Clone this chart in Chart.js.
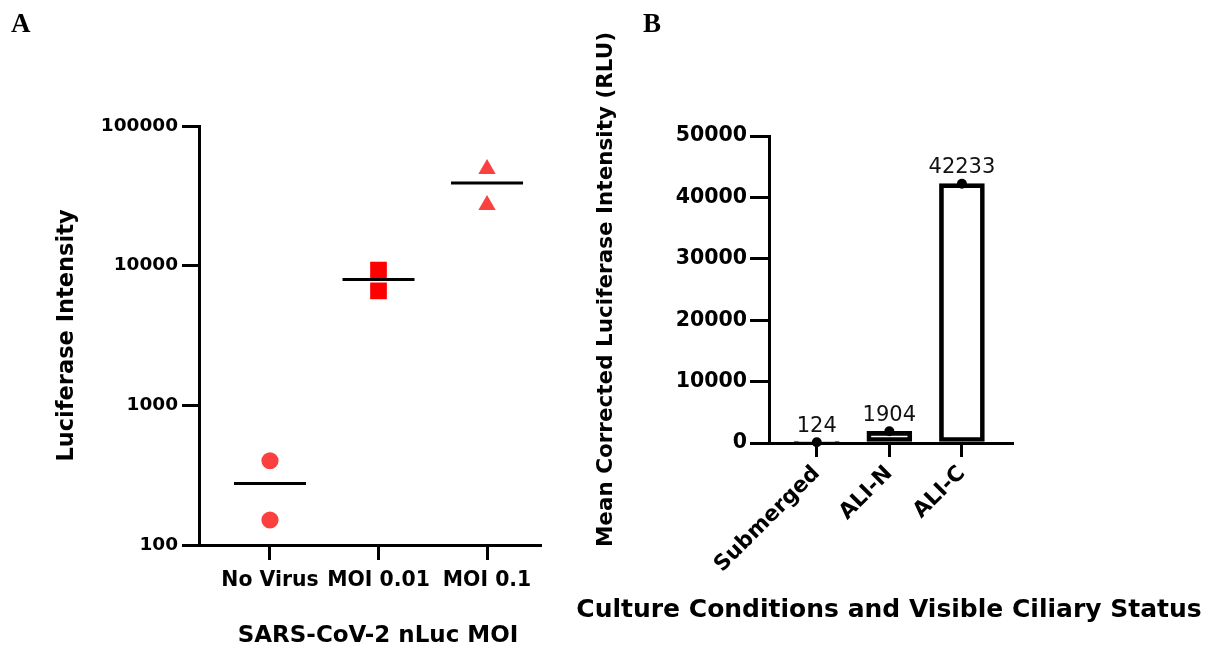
<!DOCTYPE html>
<html>
<head>
<meta charset="utf-8">
<script src="https://cdn.jsdelivr.net/npm/chart.js@4.4.1/dist/chart.umd.min.js"></script>
<style>
html,body{margin:0;padding:0;background:#fff;width:1216px;height:652px;overflow:hidden}
canvas{position:absolute;top:0}
</style>
</head>
<body>
<canvas id="chartA" width="590" height="652" style="left:0px"></canvas>
<canvas id="chartB" width="656" height="652" style="left:560px"></canvas>
<script>
// ---------- Panel A data ----------
const groupsA = ['No Virus', 'MOI 0.01', 'MOI 0.1'];
const noVirus = [401, 151];
const moi001 = [9300, 6600];
const moi01 = [49200, 27200];
const meansA = [276, 7950, 39000];
const yTicksA = [100, 1000, 10000, 100000];

// ---------- Panel B data ----------
const conditionsB = ['Submerged', 'ALI-N', 'ALI-C'];
const meanRLU = [124, 1904, 42233];
const yTicksB = [0, 10000, 20000, 30000, 40000, 50000];

const FONT = "'DejaVu Sans', sans-serif";

const panelLabel = {
  id: 'panelLabel',
  afterDraw(chart, args, opts) {
    const c = chart.ctx;
    c.save();
    c.font = 'bold 27px "Liberation Serif", serif';
    c.fillStyle = '#000';
    c.textAlign = 'left';
    c.textBaseline = 'alphabetic';
    c.fillText(opts.text, opts.x, opts.y);
    c.restore();
  }
};

// x-axis title drawn at a fixed spot (Chart.js would squeeze a title wider than the plot area)
const xTitle = {
  id: 'xTitle',
  afterDraw(chart, args, opts) {
    const c = chart.ctx;
    c.save();
    c.font = 'bold ' + opts.size + 'px ' + FONT;
    c.fillStyle = '#000';
    c.textAlign = 'center';
    c.textBaseline = 'middle';
    c.fillText(opts.text, opts.x, opts.y);
    c.restore();
  }
};

const valueLabels = {
  id: 'valueLabels',
  afterDatasetsDraw(chart) {
    const {ctx, scales: {x, y}} = chart;
    ctx.save();
    ctx.font = '21px "DejaVu Sans", sans-serif';
    ctx.fillStyle = '#111';
    ctx.textAlign = 'center';
    ctx.textBaseline = 'alphabetic';
    meanRLU.forEach((v, i) => {
      ctx.fillText(String(v), x.getPixelForValue(i), y.getPixelForValue(v) - 10.5);
    });
    ctx.restore();
  }
};

const axisGrid = (len) => ({display: true, offset: false, drawOnChartArea: false, drawTicks: true, tickLength: len, color: '#000', lineWidth: 3});
const axisBorder = {display: true, color: '#000', width: 3};

// ---------- Panel A ----------
new Chart(document.getElementById('chartA'), {
  type: 'scatter',
  plugins: [panelLabel, xTitle],
  data: {
    datasets: [
      {data: meansA.map((v, i) => ({x: i, y: v})), pointStyle: 'line', radius: 36, borderWidth: 3, borderColor: '#000', backgroundColor: '#000', clip: false, order: 0},
      {data: noVirus.map(v => ({x: 0, y: v})), pointStyle: 'circle', radius: 8.6, backgroundColor: '#fb4040', borderWidth: 0, clip: false, order: 1},
      {data: moi001.map(v => ({x: 1, y: v})), pointStyle: 'rect', radius: 11.8, backgroundColor: '#ff0000', borderWidth: 0, clip: false, order: 1},
      {data: moi01.map(v => ({x: 2, y: v})), pointStyle: 'triangle', radius: 10, backgroundColor: '#fb4040', borderWidth: 0, clip: false, order: 1}
    ]
  },
  options: {
    responsive: false,
    animation: false,
    events: [],
    layout: {padding: {left: 0, right: 50, top: 126, bottom: 0}},
    plugins: {
      legend: {display: false},
      tooltip: {enabled: false},
      panelLabel: {text: 'A', x: 11, y: 32},
      xTitle: {text: 'SARS-CoV-2 nLuc MOI', size: 23, x: 378, y: 636}
    },
    scales: {
      x: {
        type: 'linear', min: -0.654, max: 2.488, bounds: 'data',
        afterBuildTicks: s => { s.ticks = groupsA.map((_, i) => ({value: i})); },
        afterFit: s => { s.height = 107; },
        grid: axisGrid(15),
        border: axisBorder,
        ticks: {autoSkip: false, maxRotation: 0, minRotation: 0, padding: 8, color: '#000',
                font: {family: FONT, weight: 'bold', size: 20.4},
                callback: v => groupsA[v]},
        title: {display: false}
      },
      y: {
        type: 'logarithmic', min: 100, max: 100000,
        afterBuildTicks: s => { s.ticks = yTicksA.map(v => ({value: v})); },
        afterFit: s => { s.width = 199; },
        grid: axisGrid(17),
        border: axisBorder,
        ticks: {padding: 4, color: '#000', font: {family: FONT, weight: 'bold', size: 18.5},
                callback: v => String(v)},
        title: {display: true, text: 'Luciferase Intensity', color: '#000',
                font: {family: FONT, weight: 'bold', size: 22.5}, padding: {top: 54, bottom: 0}}
      }
    }
  }
});

// ---------- Panel B ----------
new Chart(document.getElementById('chartB'), {
  type: 'bar',
  plugins: [panelLabel, valueLabels, xTitle],
  data: {
    datasets: [
      {type: 'scatter', data: meanRLU.map((v, i) => ({x: i, y: v})), pointStyle: 'circle', radius: 5,
       backgroundColor: '#000', borderWidth: 0, clip: false, order: 0},
      {type: 'bar', data: meanRLU.map((v, i) => ({x: i, y: v})), backgroundColor: 'rgba(255,255,255,0)', borderColor: '#000',
       borderWidth: 4, borderSkipped: false, barThickness: 45, clip: false, order: 1}
    ]
  },
  options: {
    responsive: false,
    animation: false,
    events: [],
    layout: {padding: {left: 0, right: 204, top: 136, bottom: 0}},
    plugins: {
      legend: {display: false},
      tooltip: {enabled: false},
      panelLabel: {text: 'B', x: 83, y: 32},
      xTitle: {text: 'Culture Conditions and Visible Ciliary Status', size: 25, x: 329, y: 610}
    },
    scales: {
      x: {
        type: 'linear', min: -0.658, max: 2.69, offset: false, bounds: 'data',
        afterBuildTicks: s => { s.ticks = conditionsB.map((_, i) => ({value: i})); },
        afterFit: s => { s.height = 209; },
        grid: axisGrid(14),
        border: axisBorder,
        ticks: {autoSkip: false, maxRotation: 45, minRotation: 45, padding: 4, color: '#000',
                font: {family: FONT, weight: 'bold', size: 21.5},
                callback: v => conditionsB[v]},
        title: {display: false}
      },
      y: {
        type: 'linear', min: 0, max: 50000,
        afterBuildTicks: s => { s.ticks = yTicksB.map(v => ({value: v})); },
        afterFit: s => { s.width = 209; },
        grid: axisGrid(19),
        border: axisBorder,
        ticks: {padding: 3, color: '#000', font: {family: FONT, weight: 'bold', size: 20.5},
                callback: v => String(v)},
        title: {display: true, text: 'Mean Corrected Luciferase Intensity (RLU)', color: '#000',
                font: {family: FONT, weight: 'bold', size: 21.5}, padding: {top: 34, bottom: 0}}
      }
    }
  }
});
</script>
</body>
</html>
